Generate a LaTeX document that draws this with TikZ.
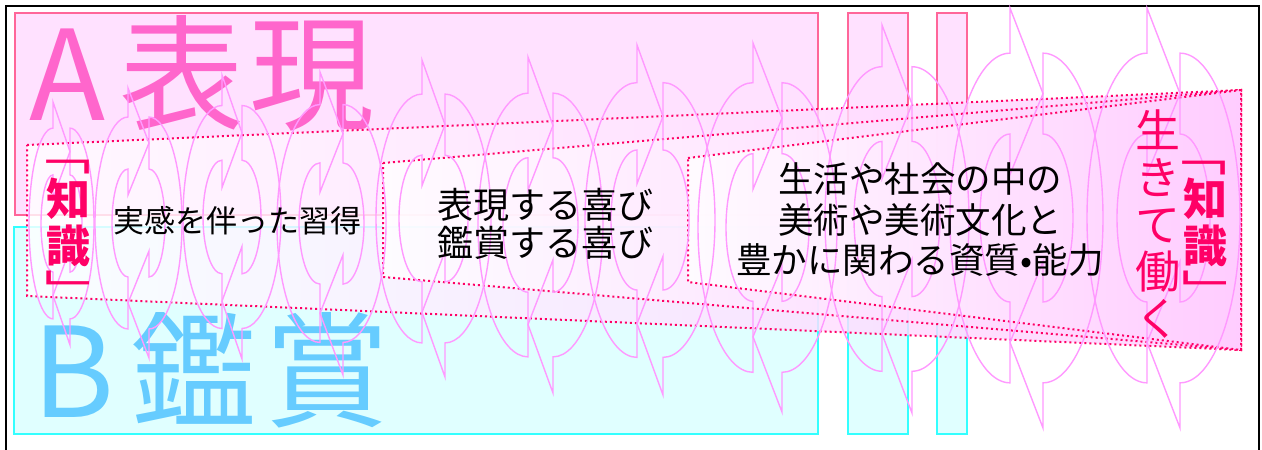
\documentclass[tikz,border=0pt]{standalone}
\usepackage{fontspec}
\newfontfamily\jp{Noto Sans CJK JP}
\definecolor{apinkfill}{RGB}{255,225,255}
\definecolor{apinkdraw}{RGB}{255,102,153}
\definecolor{bcyanfill}{RGB}{224,255,255}
\definecolor{bcyandraw}{RGB}{51,255,255}
\definecolor{atext}{RGB}{255,102,204}
\definecolor{btext}{RGB}{102,204,255}
\definecolor{dotred}{RGB}{255,0,102}
\definecolor{spiralc}{RGB}{255,153,255}
\definecolor{trapend}{RGB}{255,204,255}
\tikzset{
 abox/.style={fill=apinkfill, draw=apinkdraw, line width=1.3pt},
 bbox/.style={fill=bcyanfill, draw=bcyandraw, line width=1.3pt},
 frameline/.style={draw=black, line width=1.4pt},
 trap/.style={left color=white, right color=trapend, fill opacity=0.8},
 trapline/.style={draw=dotred, line width=2pt, dash pattern=on 2pt off 3pt},
 spiral/.style={draw=spiralc, line width=1.4pt, line join=miter},
 bigA/.style={font=\jp\fontsize{125}{125}\selectfont, text=atext, anchor=base west, inner sep=0pt},
 bigB/.style={font=\jp\fontsize{125}{125}\selectfont, text=btext, anchor=base west, inner sep=0pt},
 pinkv/.style={font=\jp\bfseries\fontsize{44}{47}\selectfont, text=dotred, inner sep=0pt},
 pinkq/.style={font=\jp\fontsize{44}{47}\selectfont, text=dotred, inner sep=0pt},
 pinkr/.style={font=\jp\fontsize{45}{47}\selectfont, text=dotred, inner sep=0pt},
 blk/.style={text=black, inner sep=0pt, align=center},
}
\newcommand{\vbracket}[1]{\rotatebox{-90}{\scalebox{1}[1.5]{#1}}}
\newcommand{\spiralunit}[6]{%
\pgfmathsetmacro\suXl{#1}%
\pgfmathsetmacro\suXr{#1+#2}%
\pgfmathsetmacro\suYt{#3}%
\pgfmathsetmacro\suYb{#4}%
\pgfmathsetmacro\suCy{(#3+#4)/2}%
\pgfmathsetmacro\suH{(#4-#3)/2}%
\pgfmathsetmacro\suYo{#3+0.215*\suH}%
\pgfmathsetmacro\suYi{#3+0.6*\suH}%
\pgfmathsetmacro\suYm{(\suYo+\suYi)/2}%
\pgfmathsetmacro\suYz{\suYi+(\suYi-\suYo)/2}%
\pgfmathsetmacro\suYob{#4-0.215*\suH}%
\pgfmathsetmacro\suYib{#4-0.6*\suH}%
\pgfmathsetmacro\suYmb{(\suYob+\suYib)/2}%
\pgfmathsetmacro\suYzb{\suYib-(\suYob-\suYib)/2}%
\pgfmathsetmacro\suRo{\suCy-\suYo}%
\pgfmathsetmacro\suRi{\suCy-\suYi}%
\pgfmathsetmacro\suBo{#5}%
\pgfmathsetmacro\suBi{#6}%
\pgfmathsetmacro\suK{0.5523}%
\draw[spiral] (\suXl,\suYz) -- (\suXl,\suYi)
  .. controls ({\suXl-\suK*\suBi},\suYi) and ({\suXl-\suBi},{\suCy-\suK*\suRi}) .. ({\suXl-\suBi},\suCy)
  .. controls ({\suXl-\suBi},{\suCy+\suK*\suRi}) and ({\suXl-\suK*\suBi},\suYib) .. (\suXl,\suYib)
  -- (\suXl,\suYob)
  .. controls ({\suXl-\suK*\suBo},\suYob) and ({\suXl-\suBo},{\suCy+\suK*\suRo}) .. ({\suXl-\suBo},\suCy)
  .. controls ({\suXl-\suBo},{\suCy-\suK*\suRo}) and ({\suXl-\suK*\suBo},\suYo) .. (\suXl,\suYo)
  -- (\suXl,\suYt) -- (\suXr,\suYm) -- cycle;
\draw[spiral] (\suXr,\suYzb) -- (\suXr,\suYib)
  .. controls ({\suXr+\suK*\suBi},\suYib) and ({\suXr+\suBi},{\suCy+\suK*\suRi}) .. ({\suXr+\suBi},\suCy)
  .. controls ({\suXr+\suBi},{\suCy-\suK*\suRi}) and ({\suXr+\suK*\suBi},\suYi) .. (\suXr,\suYi)
  -- (\suXr,\suYo)
  .. controls ({\suXr+\suK*\suBo},\suYo) and ({\suXr+\suBo},{\suCy-\suK*\suRo}) .. ({\suXr+\suBo},\suCy)
  .. controls ({\suXr+\suBo},{\suCy+\suK*\suRo}) and ({\suXr+\suK*\suBo},\suYob) .. (\suXr,\suYob)
  -- (\suXr,\suYb) -- (\suXl,\suYmb) -- cycle;
}
\begin{document}
\begin{tikzpicture}[x=1pt,y=-1pt]
\useasboundingbox (0,0) rectangle (1262,450);
\fill[white] (0,0) rectangle (1262,450);
% frame
\draw[frameline] (6,452) -- (6,6) -- (1259,6) -- (1259,452);
% A / B regions
\draw[abox] (15,13) rectangle (818,215);
\draw[abox] (848,13) rectangle (908,215);
\draw[abox] (937,13) rectangle (967,215);
\draw[bbox] (14,227) rectangle (818,434);
\draw[bbox] (848,227) rectangle (908,434);
\draw[bbox] (937,227) rectangle (967,434);
\node[bigA] (atitle) at (29,120) {A\kern14pt 表\kern5pt 現};
\node[bigB] (btitle) at (32,417) {B\kern17pt 鑑\kern8pt 賞};
% trapezoids
\coordinate (TR) at (1241,90);
\coordinate (BR) at (1241,350);
\coordinate (o1) at (27,145);
\coordinate (o2) at (27,296);
\coordinate (m1) at (383,163);
\coordinate (m2) at (383,277);
\coordinate (i1) at (688,158);
\coordinate (i2) at (688,282);
\path[trap,trapline] (o1) -- (TR) -- (BR) -- (o2) -- cycle;
\path[trap,trapline] (m1) -- (TR) -- (BR) -- (m2) -- cycle;
\path[trap,trapline] (i1) -- (TR) -- (BR) -- (i2) -- cycle;
% spiral
\spiralunit{53}{17}{102}{345}{24}{12}
\spiralunit{128}{21}{88}{358}{33}{16}
\spiralunit{222}{20}{75}{359}{39}{19}
\spiralunit{320}{23}{72}{375}{43}{21}
\spiralunit{422}{23}{60}{377}{46}{23}
\spiralunit{528}{25}{57}{393}{50}{25}
\spiralunit{637}{26}{45}{395}{52}{26}
\spiralunit{753}{29}{43}{412}{55}{27}
\spiralunit{882}{30}{25}{413}{57}{28}
\spiralunit{1010}{33}{8}{428}{60}{30}
\spiralunit{1147}{33}{8}{428}{60}{30}
% texts
\node[pinkq] (lq1) at (61.5,153) {\vbracket{「}};
\node[pinkv] (lk1) at (68,199) {知};
\node[pinkv] (lk2) at (68,246) {識};
\node[pinkq] (lq2) at (68.5,291) {\vbracket{」}};
\node[blk, font=\jp\fontsize{31}{31}\selectfont] (jikkan) at (237,221) {実感を伴った習得};
\node[blk, font=\jp\fontsize{36}{38}\selectfont] (yorokobi) at (545,224) {表現する喜び\\鑑賞する喜び};
\node[blk, font=\jp\fontsize{35.5}{40.5}\selectfont] (shishitsu) at (920,220) {生活や社会の中の\\美術や美術文化と\\豊かに関わる資質•能力};
\node[pinkr, align=center] (ikiru) at (1158,224) {生\\き\\て\\働\\く};
\node[pinkq] (rq1) at (1197,154) {\vbracket{「}};
\node[pinkv] (rk1) at (1205,199) {知};
\node[pinkv] (rk2) at (1205,246) {識};
\node[pinkq] (rq2) at (1205,291.5) {\vbracket{」}};
\end{tikzpicture}
\end{document}
